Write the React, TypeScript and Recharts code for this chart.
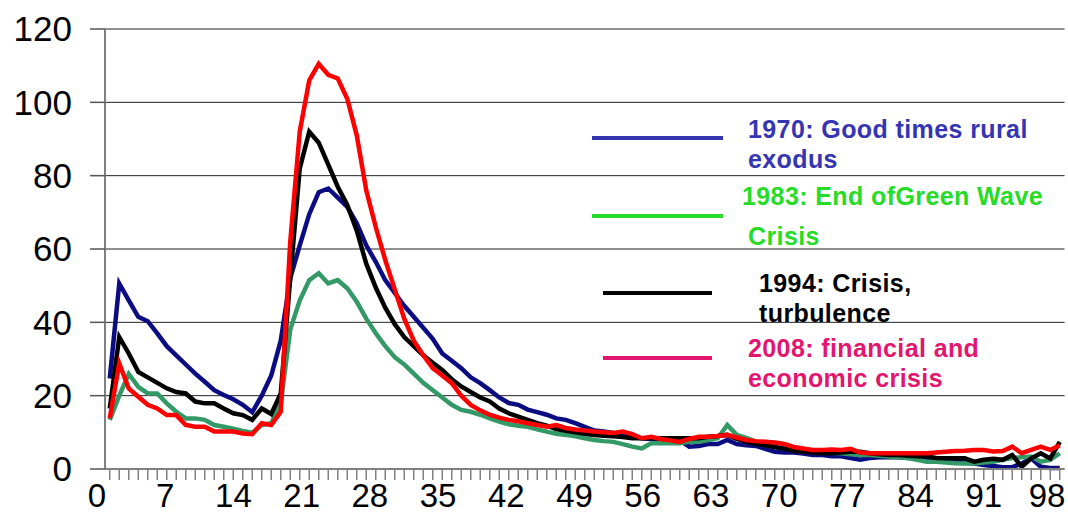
import React from "react";
import { LineChart, Line, XAxis, YAxis, CartesianGrid } from "recharts";

// days 0..100 after the shock
const days = Array.from({ length: 101 }, (_, i) => i);

const s1970 = [
  24.7, 50.6, 46, 41.5, 40.3, 37, 33.5, 31, 28.5, 26, 23.8, 21.5, 20.2, 19, 17.5, 15.5, 20, 25.5, 35, 52,
  61, 69.5, 75.5, 76.5, 74, 71.5, 67, 61, 56.5, 51.5, 48, 44.5, 41.5, 38.5, 35.5, 31.5, 29.5, 27.5, 25, 23.4,
  21.5, 19.5, 18, 17.5, 16.2, 15.5, 14.8, 13.8, 13.4, 12.5, 11.5, 10.5, 10.2, 9.8, 9.3, 8.8, 8.4, 8.2, 8.2, 8,
  7.9, 6.1, 6.3, 6.8, 6.8, 7.9, 6.8, 6.5, 6.3, 5.5, 4.7, 4.5, 4.5, 4.2, 3.8, 3.8, 3.5, 3.5, 3, 2.5,
  3, 3.2, 3.2, 3.2, 3, 3, 2.8, 2.5, 2.2, 2, 1.8, 1.5, 1.1, 0.8, 0.5, 0.5, 1.5, 2.9, 0.6, 0.3, 0.3,
];

const s1983 = [
  13.4, 20, 25.9, 22.4, 20.6, 20.6, 17.9, 15.6, 13.8, 13.8, 13.4, 12, 11.5, 11, 10.4, 9.9, 12, 12.5, 18, 38,
  46, 51.5, 53.4, 50.6, 51.5, 49.3, 45.6, 41, 37, 33.5, 30.5, 28.5, 26, 23.5, 21.5, 19.5, 17.5, 16.1, 15.6, 14.8,
  13.8, 12.9, 12.2, 11.8, 11.5, 10.8, 10.2, 9.6, 9.3, 8.9, 8.4, 7.9, 7.6, 7.4, 6.8, 6.1, 5.6, 7, 7, 7,
  7, 7.4, 7.4, 7.9, 8.4, 12, 9.3, 8.5, 7.5, 6.5, 6, 5.6, 5.2, 5, 4.7, 4.5, 4.5, 4.3, 4, 3.8,
  3.8, 3.6, 3.4, 3.2, 3, 2.5, 2, 2, 1.8, 1.6, 1.5, 1.5, 1.8, 2, 2.5, 3, 3.2, 3.4, 2, 2.5, 4.3,
];

const s1994 = [
  16.5, 36, 31.5, 26.5, 25, 23.5, 22, 21, 20.6, 18.4, 17.9, 17.9, 16.5, 15.2, 14.7, 13.4, 16.5, 15, 20.6, 52,
  82, 92, 89, 83, 77, 72, 65, 56, 49.5, 44, 39.5, 36, 33.5, 31, 29, 27, 24.5, 22.5, 21, 19.5,
  18.4, 16.5, 15.2, 14.3, 13.4, 12.5, 11.8, 10.9, 10.4, 10, 9.6, 9.3, 9.1, 8.9, 8.7, 8.4, 8.4, 8.4, 8.4, 8.4,
  8.4, 8.4, 8.4, 8.8, 9, 9.3, 8.2, 7.5, 6.8, 6.5, 6, 5.5, 5, 4.7, 4.5, 4.3, 4.3, 4.5, 4.7, 4.7,
  4.3, 4, 3.8, 3.8, 3.6, 3.5, 3.4, 3, 2.9, 2.9, 2.9, 2, 2.5, 2.8, 2.5, 3.8, 0.6, 2.9, 4.3, 2.9, 7.4,
];

const s2008 = [
  13.8, 28.8, 22, 19.7, 17.5, 16.5, 14.7, 14.7, 12, 11.5, 11.5, 10.2, 10.2, 10.2, 9.7, 9.5, 12.5, 12, 15.6, 62,
  92, 106, 110.5, 107.5, 106.5, 101, 91, 76, 66, 57, 49, 41, 35, 31, 27.5, 25.5, 23.4, 20, 17.5, 16,
  14.8, 14, 13.4, 13, 12.5, 12, 11.5, 12, 11.2, 10.8, 10.5, 10.2, 10, 9.8, 10.2, 9.5, 8.4, 8.8, 8.2, 7.8,
  7.4, 8.2, 8.8, 8.8, 9, 9.3, 8.6, 7.9, 7.6, 7.4, 7.2, 6.8, 6, 5.6, 5.2, 5.2, 5.3, 5.2, 5.5, 4.5,
  4.3, 4.3, 4.3, 4.3, 4.3, 4.3, 4.3, 4.5, 4.7, 4.9, 5, 5.2, 5.2, 4.8, 4.9, 6.1, 4.3, 5.2, 6.1, 5.2, 6.5,
];

const yTicks = [0, 20, 40, 60, 80, 100, 120];
const labelEvery = 7;

const legendItems = [
  { color: "#3535b3", lines: ["1970: Good times rural", "exodus"] },
  { color: "#26dc26", lines: ["1983: End ofGreen Wave", "Crisis"] },
  { color: "#000000", lines: ["1994: Crisis,", "turbulence"] },
  { color: "#e3166f", lines: ["2008: financial and", "economic crisis"] },
];

// layout of the pasted legend block
const legendLayout = [
  { x1: 592, x2: 723, ly: 138, tx: [748, 748], ty: [138, 168] },
  { x1: 592, x2: 723, ly: 216, tx: [742, 748], ty: [205, 245] },
  { x1: 603, x2: 712, ly: 293, tx: [759, 759], ty: [292, 322] },
  { x1: 603, x2: 712, ly: 358, tx: [748, 748], ty: [357, 387] },
];

const data = days.map((d, i) => ({
  day: d,
  y1970: s1970[i],
  y1983: s1983[i],
  y1994: s1994[i],
  y2008: s2008[i],
}));

const W = 1068;
const H = 515;
const FONT = "'Liberation Sans', Arial, sans-serif";

// the original's category labels sit slightly wider apart than its tick marks
const DayTick = (props: any) => {
  const { x, y, payload } = props;
  const v = payload.value as number;
  if (v % labelEvery !== 0) return null;
  const shift = -12.75 + 0.245 * v;
  const cx = Math.min(x + shift, W - 21);
  return (
    <text x={cx} y={y} dy="0.71em" textAnchor="middle" fontSize={33} fill="#000" fontFamily={FONT}>
      {v}
    </text>
  );
};

export default function App() {
  return (
    <div style={{ position: "absolute", left: 0, top: 0, width: W, height: H, background: "#fff", overflow: "hidden" }}>
      <LineChart width={W} height={H} data={data} margin={{ top: 29, right: 3.5, bottom: 0, left: 0 }}>
        <CartesianGrid vertical={false} stroke="#222" strokeWidth={1} />
        <XAxis
          type="number"
          dataKey="day"
          domain={[-0.5, 100.5]}
          ticks={days}
          interval={0}
          height={46}
          tickSize={11}
          tickMargin={4}
          tick={<DayTick />}
          axisLine={{ stroke: "#808080", strokeWidth: 2 }}
          tickLine={{ stroke: "#808080", strokeWidth: 1.5 }}
        />
        <YAxis
          domain={[0, 120]}
          ticks={yTicks}
          interval={0}
          width={105}
          tickSize={15}
          tickMargin={18}
          tick={{ fontSize: 35, fill: "#000", fontFamily: FONT }}
          axisLine={{ stroke: "#808080", strokeWidth: 2 }}
          tickLine={{ stroke: "#555", strokeWidth: 1.5 }}
        />
        <Line dataKey="y1970" stroke="#0b0b82" strokeWidth={4.5} dot={false} isAnimationActive={false} />
        <Line dataKey="y1983" stroke="#339966" strokeWidth={4.5} dot={false} isAnimationActive={false} />
        <Line dataKey="y1994" stroke="#000000" strokeWidth={4.5} dot={false} isAnimationActive={false} />
        <Line dataKey="y2008" stroke="#ff0000" strokeWidth={4.5} dot={false} isAnimationActive={false} />
      </LineChart>
      <svg width={W} height={H} style={{ position: "absolute", left: 0, top: 0, pointerEvents: "none" }}>
        {legendItems.map((item, k) => {
          const p = legendLayout[k];
          return (
            <g key={k}>
              <line x1={p.x1} x2={p.x2} y1={p.ly} y2={p.ly} stroke={item.color} strokeWidth={4} />
              {item.lines.map((t, j) => (
                <text
                  key={j}
                  x={p.tx[j]}
                  y={p.ty[j]}
                  fill={item.color}
                  fontFamily={FONT}
                  fontWeight="bold"
                  fontSize={25}
                  letterSpacing={0.4}
                >
                  {t}
                </text>
              ))}
            </g>
          );
        })}
      </svg>
    </div>
  );
}
